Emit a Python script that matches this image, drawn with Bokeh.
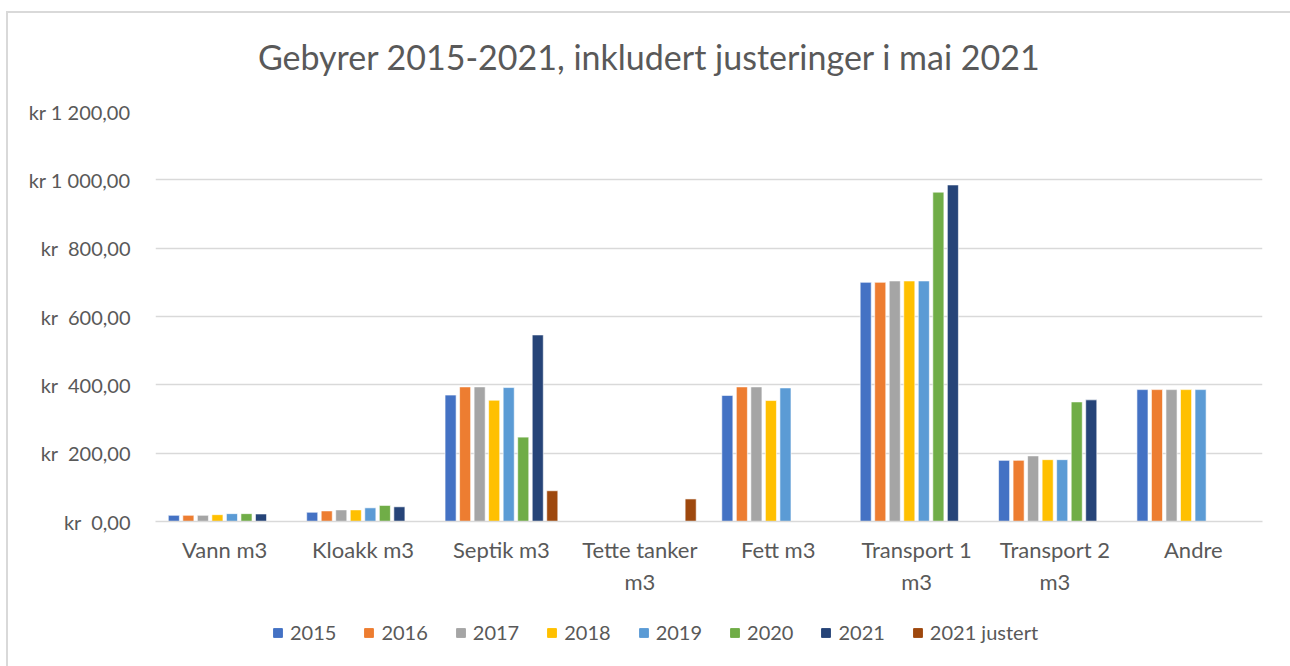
from bokeh.plotting import figure
from bokeh.models import ColumnDataSource, FactorRange, FixedTicker, Legend, LegendItem, Label
from bokeh.layouts import column
from bokeh.transform import dodge
from bokeh.embed import file_html
from bokeh.resources import INLINE
import math

title_text = "Gebyrer 2015-2021, inkludert justeringer i mai 2021"
categories = ["Vann m3", "Kloakk m3", "Septik m3", "Tette tanker\nm3", "Fett m3",
              "Transport 1\nm3", "Transport 2\nm3", "Andre"]
series_names = ["2015", "2016", "2017", "2018", "2019", "2020", "2021", "2021 justert"]
NA = float("nan")
v2015 = [18, 27, 370, NA, 369, 700, 179, 386]
v2016 = [18, 31, 394, NA, 394, 700, 179, 386]
v2017 = [18, 34, 394, NA, 394, 704, 192, 386]
v2018 = [20, 34, 355, NA, 354, 704, 181, 386]
v2019 = [23, 40, 392, NA, 391, 704, 181, 386]
v2020 = [23, 47, 247, NA, NA, 964, 350, NA]
v2021 = [22, 43, 546, NA, NA, 985, 356, NA]
v2021j = [NA, NA, 90, 66, NA, NA, NA, NA]
series_values = [v2015, v2016, v2017, v2018, v2019, v2020, v2021, v2021j]
colors = ["#4472C4", "#ED7D31", "#A5A5A5", "#FFC000", "#5B9BD5", "#70AD47", "#264478", "#9E480E"]
y_ticks = [0, 200, 400, 600, 800, 1000, 1200]
y_tick_labels = ["kr\u00a0\u00a00,00", "kr\u00a0\u00a0200,00", "kr\u00a0\u00a0400,00",
                 "kr\u00a0\u00a0600,00", "kr\u00a0\u00a0800,00",
                 "kr 1\u00a0000,00", "kr 1\u00a0200,00"]

FONT = "Lato"
TXT = "#595959"

OX, OY = 8, 13  # outer chart-area border offset
W = 1290 - OX
BL, BR = 155 - OX, 28
FW = W - BL - BR
TH = 83

# title strip
tf = figure(width=W, height=TH, x_range=(0, FW), y_range=(0, TH),
            output_backend="svg", toolbar_location=None)
tf.axis.visible = False
tf.grid.visible = False
tf.outline_line_color = None
tf.min_border = 0
tf.min_border_left = BL
tf.min_border_right = BR
tf.border_fill_color = "white"
tf.background_fill_color = "white"
tf.add_layout(Label(x=494, y=TH - 43, text=title_text, text_font=FONT,
                    text_font_size="34px", text_color=TXT, text_align="center",
                    text_baseline="middle"))

p = figure(width=W, height=15 + 410 + 79, x_range=FactorRange(*categories, range_padding=0),
           y_range=(0, 1200), output_backend="svg", toolbar_location=None)
p.min_border_left = BL
p.min_border_right = BR
p.min_border_top = 15
p.min_border_bottom = 79
p.outline_line_color = None
p.background_fill_color = "white"
p.border_fill_color = "white"

p.yaxis.ticker = FixedTicker(ticks=y_ticks)
p.yaxis.major_label_overrides = {t: l for t, l in zip(y_ticks, y_tick_labels)}
p.yaxis.axis_line_color = None
p.yaxis.major_tick_line_color = None
p.yaxis.minor_tick_line_color = None
p.yaxis.major_label_text_font = FONT
p.yaxis.major_label_text_font_size = "20px"
p.yaxis.major_label_text_color = TXT
p.yaxis.major_label_standoff = 19

p.xaxis.axis_line_color = "#d9d9d9"
p.xaxis.axis_line_width = 1.5
p.xaxis.major_tick_line_color = None
p.xaxis.minor_tick_line_color = None
p.xaxis.major_label_text_font = FONT
p.xaxis.major_label_text_font_size = "22px"
p.xaxis.major_label_text_color = TXT
p.xaxis.major_label_standoff = 8

p.xgrid.grid_line_color = None
p.ygrid.grid_line_color = "#d9d9d9"
p.ygrid.grid_line_width = 1.5

# legend lives in a slim figure underneath
lf = figure(width=W, height=66, x_range=(0, 1), y_range=(0, 1),
            output_backend="svg", toolbar_location=None)
lf.axis.visible = False
lf.grid.visible = False
lf.outline_line_color = None
lf.min_border = 0
lf.min_border_left = BL
lf.min_border_right = BR
lf.border_fill_color = "white"
lf.background_fill_color = "white"

slot = 0.105
items = []
for i, (name, vals, col) in enumerate(zip(series_names, series_values, colors)):
    xs = [c for c, v in zip(categories, vals) if not math.isnan(v)]
    ys = [v for v in vals if not math.isnan(v)]
    src = ColumnDataSource(dict(cat=xs, val=ys))
    p.vbar(x=dodge("cat", (i - 3.5) * slot, range=p.x_range), top="val", width=0.08,
           source=src, fill_color=col, line_color="white", line_width=0.6)
    # off-screen swatch renderer, only used for the legend key
    lr = lf.quad(left=[5], right=[6], top=[6], bottom=[5], fill_color=col, line_color=col)
    items.append(LegendItem(label=name, renderers=[lr]))

legend = Legend(items=items, orientation="horizontal", location=(117, 22))
legend.label_text_font = FONT
legend.label_text_font_size = "20px"
legend.label_text_color = TXT
legend.glyph_width = 11
legend.glyph_height = 11
legend.spacing = 27
legend.label_standoff = 7
legend.border_line_color = None
legend.background_fill_alpha = 0
legend.margin = 0
legend.padding = 0
lf.add_layout(legend, "center")

layout = column(tf, p, lf, spacing=0)
layout.styles = {"border-left": "2px solid #d9d9d9", "border-top": "2px solid #d9d9d9",
                 "margin-left": "6px", "margin-top": "11px"}
open("out.html", "w").write(file_html(layout, INLINE))
